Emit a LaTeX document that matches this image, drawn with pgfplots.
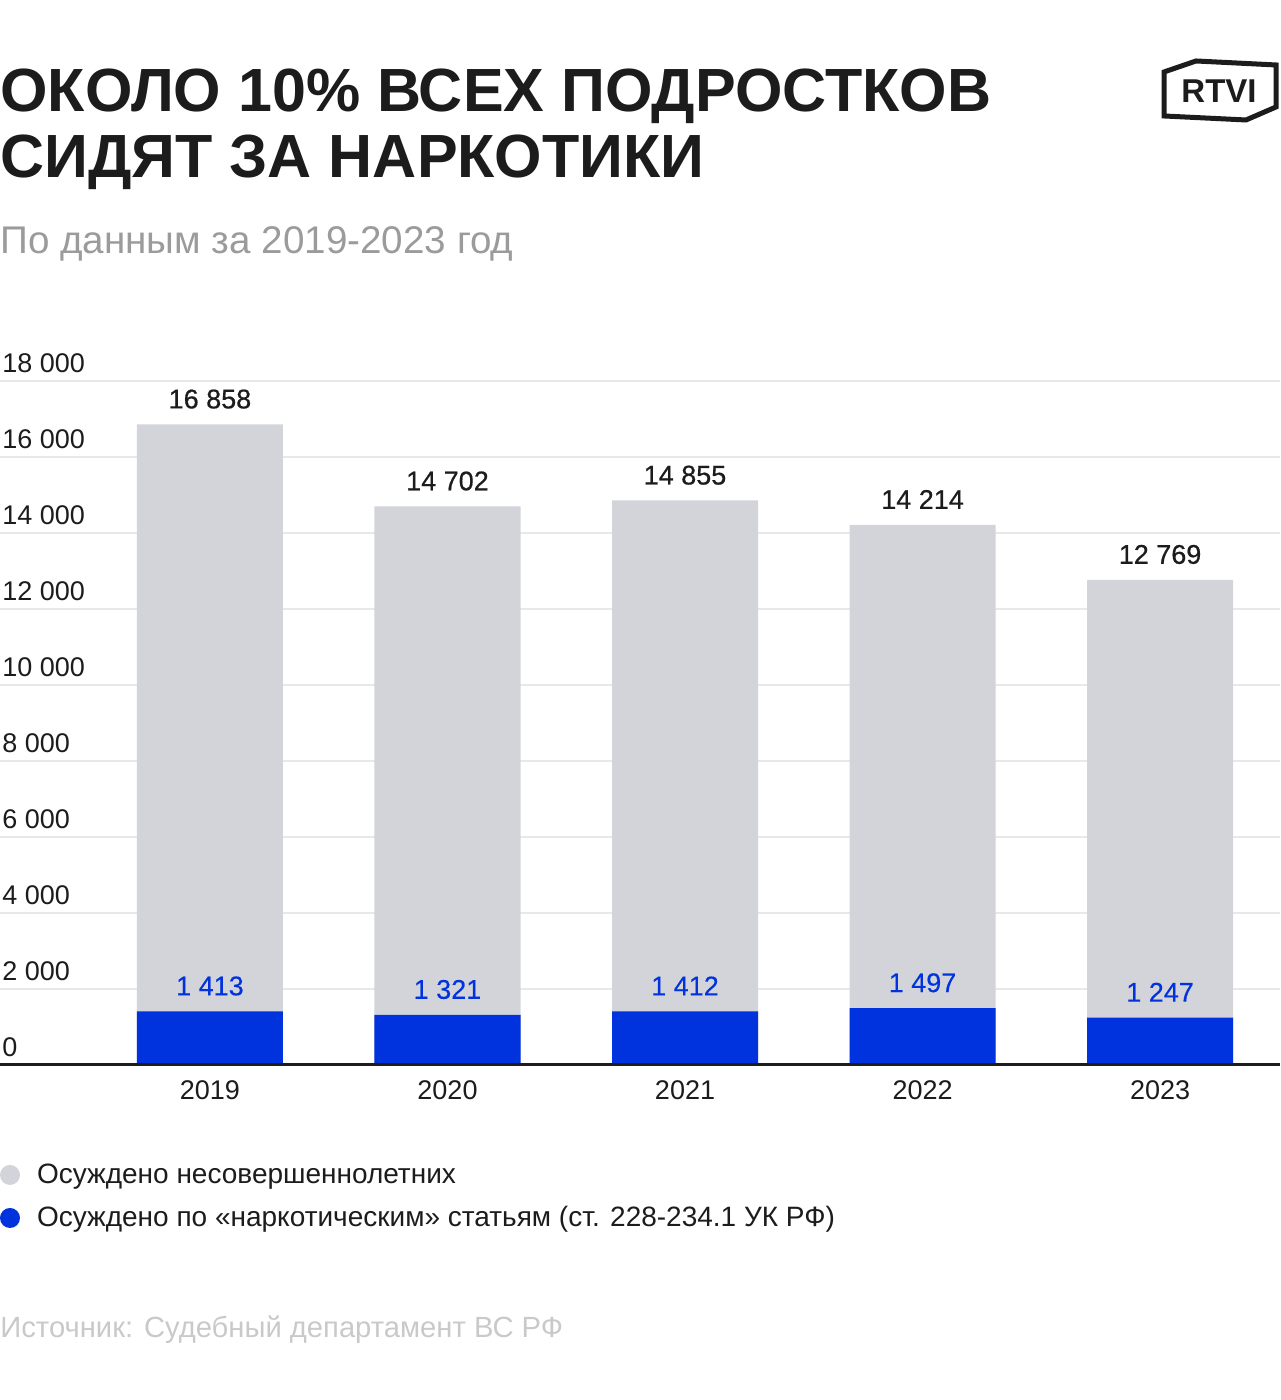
\documentclass[border=0pt]{standalone}
\usepackage{fontspec}
\setmainfont{Liberation Sans}
\newfontfamily\semib[FakeBold=0.6]{Liberation Sans}
\newfontfamily\medium[FakeBold=0.3]{Liberation Sans}
\usepackage{pgfplots}
\pgfplotsset{compat=1.18}
\definecolor{barg}{HTML}{D3D4D9}
\definecolor{barb}{HTML}{0033DD}
\definecolor{ink}{HTML}{1C1C1C}
\definecolor{gridc}{HTML}{E8E8E8}
\definecolor{subc}{HTML}{9B9B9B}
\definecolor{srcc}{HTML}{C9C9C9}
\pgfplotsset{dotlegend/.style={legend image code/.code={\fill[##1] (5pt,1pt) circle (5pt);}}}
\begin{document}
\begin{tikzpicture}[x=1pt,y=1pt]
\useasboundingbox (0,0) rectangle (640,700);
\node[anchor=base west, inner sep=0pt, font=\fontsize{30.5}{36}\selectfont\bfseries, text=ink] at (0,644) {ОКОЛО 10\% ВСЕХ ПОДРОСТКОВ};
\node[anchor=base west, inner sep=0pt, font=\fontsize{30.5}{36}\selectfont\bfseries, text=ink] at (0,611) {СИДЯТ ЗА НАРКОТИКИ};
\node[anchor=base west, inner sep=0pt, font=\fontsize{19.3}{23}\selectfont, text=subc] at (0,573) {По данным за 2019-2023 год};
\node[anchor=base west, inner sep=0pt, font=\fontsize{14.6}{17}\selectfont, text=srcc] at (0,31) {Источник: Судебный департамент ВС РФ};
% logo
\draw[ink, line width=2.5pt, line join=miter] (582,664) -- (598,669.5) -- (638,667.5) -- (638,646.5) -- (623,640) -- (582,642) -- cycle;
\node[anchor=base, inner sep=0pt, font=\fontsize{16.5}{18}\selectfont\bfseries, text=ink] at (609.5,648.5) {RTVI};
\begin{axis}[
  at={(0pt,167.5pt)}, anchor=south west, scale only axis,
  width=640pt, height=342pt,
  xmin=-0.884, xmax=4.505, ymin=0, ymax=18000,
  scaled y ticks=false,
  ybar, bar width=73pt,
  axis line style={draw=none},
  major tick length=0pt,
  ytick={0,2000,4000,6000,8000,10000,12000,14000,16000,18000},
  yticklabels={0,2 000,4 000,6 000,8 000,10 000,12 000,14 000,16 000,18 000},
  ymajorgrids, grid style={gridc, line width=1pt},
  xtick={0,1,2,3,4},
  xticklabels={2019,2020,2021,2022,2023},
  yticklabel style={anchor=base west, inner sep=0pt, xshift=1pt, yshift=4pt, font=\fontsize{13.5}{15}\selectfont, text=ink},
  xticklabel style={anchor=base, inner sep=0pt, yshift=-17.5pt, font=\fontsize{13.5}{15}\selectfont, text=ink},
  clip=false,
  point meta=explicit symbolic,
  legend style={at={(0,-0.1447)}, anchor=north west, draw=none, fill=none, inner sep=0pt, outer sep=0pt,
    row sep=8.5pt, font=\fontsize{14}{15}\selectfont, text=ink,
    nodes={inner sep=0pt, text height=10pt, text depth=3pt},
    /tikz/every odd column/.style={column sep=8.5pt}},
  legend cell align=left,
]
\addplot[fill=barg, draw=none, bar shift=0pt, dotlegend, nodes near coords,
  nodes near coords style={anchor=base, inner sep=0pt, yshift=8pt, font=\semib\fontsize{13.5}{15}\selectfont, text=ink}]
  coordinates {(0,16858) [16 858] (1,14702) [14 702] (2,14855) [14 855] (3,14214) [14 214] (4,12769) [12 769]};
\addlegendentry{Осуждено несовершеннолетних}
\addplot[fill=barb, draw=none, bar shift=0pt, dotlegend, nodes near coords,
  nodes near coords style={anchor=base, inner sep=0pt, yshift=8pt, font=\medium\fontsize{13.5}{15}\selectfont, text=barb}]
  coordinates {(0,1413) [1 413] (1,1321) [1 321] (2,1412) [1 412] (3,1497) [1 497] (4,1247) [1 247]};
\addlegendentry{Осуждено по «наркотическим» статьям (ст. 228-234.1 УК РФ)}
\draw[ink, line width=1.5pt] (rel axis cs:0,0) -- (rel axis cs:1,0);
\end{axis}
\end{tikzpicture}
\end{document}
